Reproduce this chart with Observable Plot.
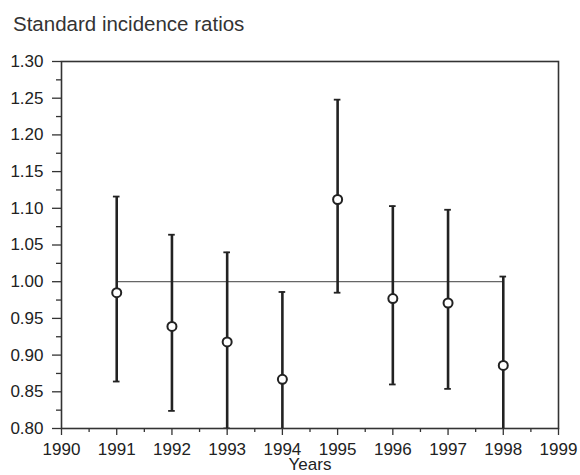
<!DOCTYPE html>
<html>
<head>
<meta charset="utf-8">
<script src="https://cdn.jsdelivr.net/npm/d3@7"></script>
<script src="https://cdn.jsdelivr.net/npm/@observablehq/plot@0.6"></script>
<style>
  body { margin: 0; background: #fff; }
  #title { height: 40px; box-sizing: border-box; padding: 14px 0 0 13px; font: 20.5px "Liberation Sans", Arial, sans-serif; color: #333; line-height: 1; }
</style>
</head>
<body>
<div id="title">Standard incidence ratios</div>
<div id="chart"></div>
<script>
const years = [1991, 1992, 1993, 1994, 1995, 1996, 1997, 1998];
const sir   = [0.985, 0.939, 0.918, 0.867, 1.112, 0.977, 0.971, 0.886];
const lower = [0.864, 0.824, 0.800, 0.750, 0.985, 0.860, 0.854, 0.760];
const upper = [1.116, 1.064, 1.040, 0.986, 1.248, 1.103, 1.098, 1.007];

const xTicks = [1990, 1991, 1992, 1993, 1994, 1995, 1996, 1997, 1998, 1999];
const xMinorTicks = [1990.5, 1991.5, 1992.5, 1993.5, 1994.5, 1995.5, 1996.5, 1997.5, 1998.5];
const yTicks = [0.80, 0.85, 0.90, 0.95, 1.00, 1.05, 1.10, 1.15, 1.20, 1.25, 1.30];
const yMinorTicks = [0.825, 0.875, 0.925, 0.975, 1.025, 1.075, 1.125, 1.175, 1.225, 1.275];
const reference = [{value: 1.0, from: 1991, to: 1998}];

const data = years.map((y, i) => ({year: y, sir: sir[i], lo: lower[i], hi: upper[i]}));
const capHalf = 0.06;
const ink = "#222";

const chart = Plot.plot({
  width: 580,
  height: 435,
  marginLeft: 61,
  marginRight: 22,
  marginTop: 21,
  marginBottom: 47,
  style: {fontFamily: "'Liberation Sans', Arial, sans-serif", fontSize: "17px", color: "#222", background: "#fff"},
  x: {domain: [1990, 1999]},
  y: {domain: [0.80, 1.30]},
  marks: [
    Plot.axisX({ticks: xMinorTicks, tickSize: 4, text: null, label: null, stroke: "#333", strokeWidth: 1.3}),
    Plot.axisX({ticks: xTicks, tickSize: 7, tickPadding: 7, tickFormat: "d", label: "Years", labelAnchor: "center", labelArrow: "none", labelOffset: 41, stroke: "#333", strokeWidth: 1.3}),
    Plot.axisY({ticks: yMinorTicks, tickSize: 5, text: null, label: null, stroke: "#333", strokeWidth: 1.3}),
    Plot.axisY({ticks: yTicks, tickSize: 9, tickPadding: 9, tickFormat: d3.format(".2f"), label: null, stroke: "#333", strokeWidth: 1.3}),
    Plot.frame({stroke: "#333", strokeWidth: 1.6}),
    Plot.ruleY(reference, {y: "value", x1: "from", x2: "to", stroke: "#666", strokeWidth: 1.3}),
    Plot.ruleX(data, {x: "year", y1: "lo", y2: "hi", stroke: ink, strokeWidth: 2.6, clip: true}),
    Plot.ruleY(data, {y: "hi", x1: d => d.year - capHalf, x2: d => d.year + capHalf, stroke: ink, strokeWidth: 1.8, clip: true}),
    Plot.ruleY(data, {y: "lo", x1: d => d.year - capHalf, x2: d => d.year + capHalf, stroke: ink, strokeWidth: 1.8, clip: true}),
    Plot.dot(data, {x: "year", y: "sir", r: 4.5, fill: "#fff", stroke: ink, strokeWidth: 2})
  ]
});
document.getElementById("chart").appendChild(chart);
</script>
</body>
</html>
